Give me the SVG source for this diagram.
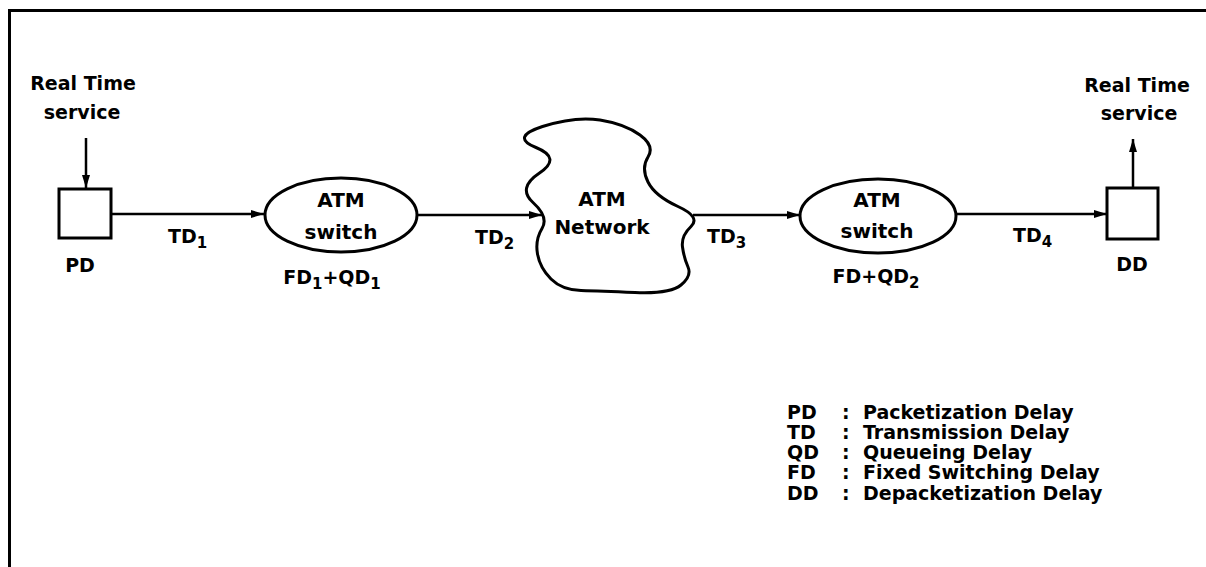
<svg xmlns="http://www.w3.org/2000/svg" width="1206" height="567" viewBox="0 0 1206 567">
<style>
text{font-family:"DejaVu Sans","Liberation Sans",sans-serif;font-weight:bold;font-size:19px;fill:#000}
.c{text-anchor:middle}
.n{font-size:20px}
.sub{font-size:15px}
.shape{fill:#fff;stroke:#000;stroke-width:3}
.edge{fill:none;stroke:#000;stroke-width:2.5}
.frame{fill:none;stroke:#000;stroke-width:3}
</style>
<defs>
<marker id="ah" markerUnits="userSpaceOnUse" markerWidth="14" markerHeight="10" refX="13" refY="5" orient="auto">
<path d="M0,1 L13,5 L0,9 z" fill="#000"/>
</marker>
</defs>
<rect width="1206" height="567" fill="#fff"/>
<path class="frame" d="M9.5,567 V10.5 H1206"/>

<g id="connectors">
<line class="edge" x1="86" y1="138" x2="86" y2="188" marker-end="url(#ah)"/>
<line class="edge" x1="111" y1="214" x2="264" y2="214" marker-end="url(#ah)"/>
<line class="edge" x1="417" y1="215" x2="542" y2="215" marker-end="url(#ah)"/>
<line class="edge" x1="693" y1="215" x2="800" y2="215" marker-end="url(#ah)"/>
<line class="edge" x1="957" y1="214" x2="1107" y2="214" marker-end="url(#ah)"/>
<line class="edge" x1="1133" y1="188" x2="1133" y2="139" marker-end="url(#ah)"/>
<text x="168" y="243">TD<tspan class="sub" dy="5">1</tspan></text>
<text x="475" y="244">TD<tspan class="sub" dy="5">2</tspan></text>
<text x="707" y="243">TD<tspan class="sub" dy="5">3</tspan></text>
<text x="1013" y="242">TD<tspan class="sub" dy="5">4</tspan></text>
</g>

<g id="src-service">
<text class="c" x="83" y="90">Real Time</text>
<text class="c" x="82" y="119">service</text>
</g>

<g id="pd">
<rect class="shape" x="59" y="189" width="52" height="49"/>
<text class="c" x="80" y="272">PD</text>
</g>

<g id="switch1">
<ellipse class="shape" cx="341" cy="215" rx="76" ry="37" stroke-width="3.5"/>
<text class="c n" x="341" y="207">ATM</text>
<text class="c n" x="341" y="239">switch</text>
<text class="c" x="332" y="284">FD<tspan class="sub" dy="5">1</tspan><tspan dy="-5">+QD</tspan><tspan class="sub" dy="5">1</tspan></text>
</g>

<g id="network">
<path class="shape" d="M536,147.5 Q510,137 542.5,126.5 Q575,116 600,120 Q625,124 640,135 Q655,146 648,157 Q641,168 648,182 Q655,196 678,206.5 Q701,217 691,226.5 Q681,236 682.5,247 Q684,258 688,267 Q692,276 681,285 Q670,294 635,292.5 Q600,291 581,290.5 Q562,290 551,279 Q540,268 537.5,254 Q535,240 542,228.5 Q549,217 533,202.5 Q517,188 539.5,173 Q562,158 536,147.5 Z"/>
<text class="c n" x="602" y="206">ATM</text>
<text class="c n" x="602" y="234">Network</text>
</g>

<g id="switch2">
<ellipse class="shape" cx="878" cy="216" rx="78" ry="37" stroke-width="3.5"/>
<text class="c n" x="877" y="207">ATM</text>
<text class="c n" x="877" y="238">switch</text>
<text class="c" x="876" y="283">FD+QD<tspan class="sub" dy="5">2</tspan></text>
</g>

<g id="dd">
<rect class="shape" x="1107" y="188" width="51" height="51"/>
<text class="c" x="1132" y="271">DD</text>
</g>

<g id="dst-service">
<text class="c" x="1137" y="92">Real Time</text>
<text class="c" x="1139" y="120">service</text>
</g>

<g id="legend">
<text x="787" y="419">PD</text><text x="842" y="419">:</text><text x="863" y="419">Packetization Delay</text>
<text x="787" y="439">TD</text><text x="842" y="439">:</text><text x="863" y="439">Transmission Delay</text>
<text x="787" y="459">QD</text><text x="842" y="459">:</text><text x="863" y="459">Queueing Delay</text>
<text x="787" y="479">FD</text><text x="842" y="479">:</text><text x="863" y="479">Fixed Switching Delay</text>
<text x="787" y="500">DD</text><text x="842" y="500">:</text><text x="863" y="500">Depacketization Delay</text>
</g>
</svg>
